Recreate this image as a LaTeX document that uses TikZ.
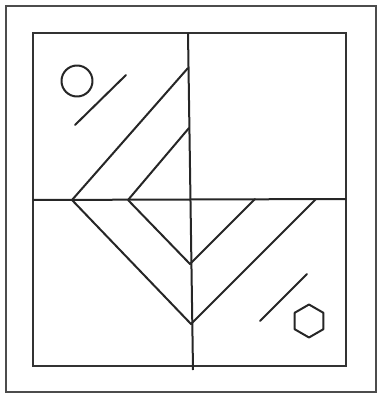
\documentclass[tikz,border=0pt]{standalone}
\begin{document}
\begin{tikzpicture}[x=1pt,y=-1pt,
  frame/.style={draw=black!80,line width=2.8pt},
  stroke/.style={draw=black!85,line width=2pt,line cap=round,line join=round}]
\useasboundingbox (0,0) rectangle (378,394);
% outer frame
\draw[frame,draw=black!70,line width=2.2pt] (6,6) rectangle (376,392);
% inner square
\draw[frame] (33,33) rectangle (346,366);
% dividers
\coordinate (vt) at (188,33);
\coordinate (vb) at (193,370);
\draw[stroke,line cap=butt] (vt) -- (vb);
\draw[stroke,line cap=butt] (33,200) -- (346,199);
% chevrons
\coordinate (L1) at (72,200);
\coordinate (L2) at (128,200);
\coordinate (T1) at (188,68);
\coordinate (T2) at (189,128);
\coordinate (A1) at (191,324);
\coordinate (A2) at (190,264);
\coordinate (R1) at (316,199);
\coordinate (R2) at (255,199);
\draw[stroke] (T1) -- (L1) -- (A1) -- (R1);
\draw[stroke] (T2) -- (L2) -- (A2) -- (R2);
% circle and line
\draw[stroke] (77,81) circle (15.5);
\draw[stroke] (75,125) -- (126,75);
% hexagon and line
\draw[stroke] (309,321) +(90:16.5) -- +(150:16.5) -- +(210:16.5) -- +(270:16.5) -- +(330:16.5) -- +(30:16.5) -- cycle;
\draw[stroke] (260,321) -- (307,274);
\end{tikzpicture}
\end{document}
